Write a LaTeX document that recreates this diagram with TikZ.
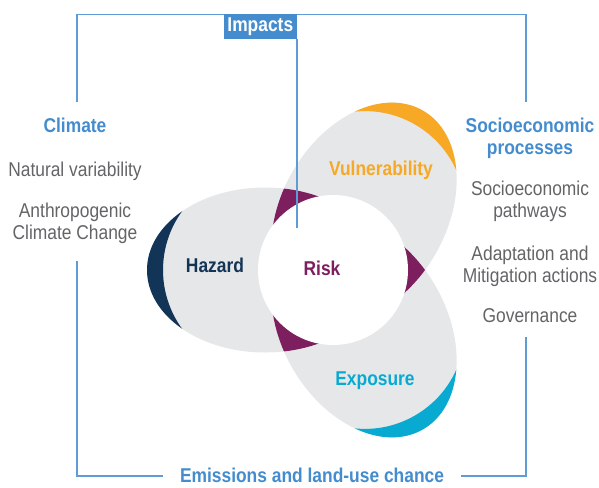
\documentclass[tikz,border=0pt]{standalone}
\usepackage{fontspec}
\setmainfont{Liberation Sans}[FakeStretch=0.87]
\usetikzlibrary{positioning}
\definecolor{ipccblue}{RGB}{68,140,205}
\definecolor{frameblue}{RGB}{95,155,212}
\definecolor{textgray}{RGB}{99,100,102}
\definecolor{petalgray}{RGB}{230,231,232}
\definecolor{hazardnavy}{RGB}{18,52,86}
\definecolor{vulnorange}{RGB}{247,168,36}
\definecolor{exposcyan}{RGB}{8,170,210}
\definecolor{riskpurple}{RGB}{125,30,95}

\tikzset{
  txt/.style={font=\fontsize{20}{22}\selectfont, inner sep=0pt, align=center, text=textgray},
  head/.style={txt, font=\fontsize{20}{22}\selectfont\bfseries},
  petalsize/.style={x radius=118, y radius=82.5},
  frameline/.style={frameblue, line width=1.6},
}

\begin{document}
\begin{tikzpicture}[x=1pt, y=-1pt]
      \useasboundingbox (0,0) rectangle (599,487);

      % petals: grey body with a coloured rim at the outer end
      \foreach \ang/\col in {0/hazardnavy, -120/vulnorange, 120/exposcyan} {
        \begin{scope}[rotate around={\ang:(331,270)}]
          \fill[petalgray] (265,270) ellipse [petalsize];
          \begin{scope}
            \clip (265,270) ellipse [petalsize];
            \fill[\col, even odd rule] (263,270) circle [radius=100] (100,150) rectangle (420,390);
          \end{scope}
        \end{scope}
      }

      % overlaps
      \begin{scope}
        \clip (265,270) ellipse [petalsize];
        \fill[riskpurple, rotate around={-120:(331,270)}] (265,270) ellipse [petalsize];
        \fill[riskpurple, rotate around={120:(331,270)}] (265,270) ellipse [petalsize];
      \end{scope}
      \begin{scope}
        \clip[rotate around={-120:(331,270)}] (265,270) ellipse [petalsize];
        \fill[riskpurple, rotate around={120:(331,270)}] (265,270) ellipse [petalsize];
      \end{scope}
      \fill[white] (333,270) circle [radius=75];

      \node[head, text=hazardnavy, anchor=base] (hazard) at (215,272) {Hazard};
      \node[head, text=riskpurple, anchor=base] (risk) at (322,275) {Risk};
      \node[head, text=vulnorange, anchor=base] (vuln) at (381,175) {Vulnerability};
      \node[head, text=exposcyan, anchor=base] (expo) at (375,385) {Exposure};

      % frame
      \draw[frameline] (77,102) -- (77,14.5) -- (526,14.5) -- (526,102);
      \draw[frameline] (77,261) -- (77,476) -- (163,476);
      \draw[frameline] (526,337) -- (526,476) -- (461,476);

      \node[head, text=white, fill=ipccblue, minimum width=73, minimum height=25,
            anchor=north east] (impacts) at (297,14) {Impacts};
      \coordinate (riskin) at (297,228);
      \draw[frameblue, line width=1.2] (impacts.south east) -- (riskin);

      % climate side
      \node[head, text=ipccblue, anchor=base] (climate) at (75,132) {Climate};
      \node[txt, anchor=base] (natural) at (75,176) {Natural variability};
      \node[txt] (anthro) at (75,223) {Anthropogenic\\Climate Change};

      % socioeconomic side
      \node[head, text=ipccblue] (socio) at (530,138) {Socioeconomic\\processes};
      \node[txt] (pathways) at (530,201) {Socioeconomic\\pathways};
      \node[txt] (adapt) at (530,266) {Adaptation and\\Mitigation actions};
      \node[txt, anchor=base] (governance) at (530,322) {Governance};

      \node[head, text=ipccblue, anchor=base] (emissions) at (312,482) {Emissions and land-use chance};
\end{tikzpicture}
\end{document}
